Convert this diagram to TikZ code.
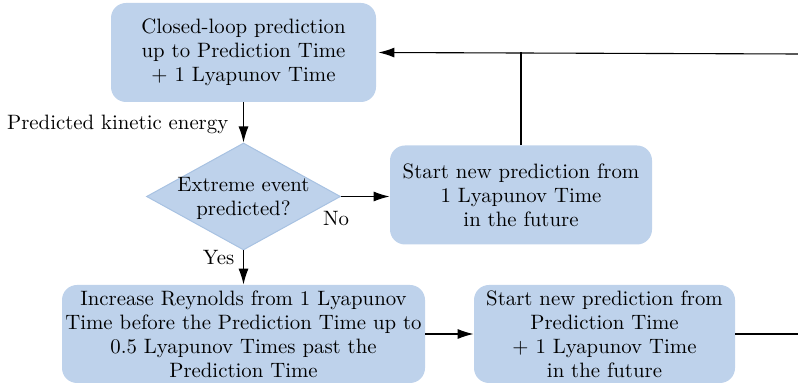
\documentclass[tikz,border=0pt]{standalone}
\usetikzlibrary{arrows.meta,shapes.geometric}
\definecolor{boxblue}{RGB}{190,210,235}
\definecolor{edgeblue}{RGB}{168,194,226}
\begin{document}
\begin{tikzpicture}[x=0.5pt,y=-0.5pt,
  every node/.style={font=\fontsize{10.4}{12}\selectfont},
  box/.style={rectangle, rounded corners=7.5pt, fill=boxblue, draw=none, align=center, inner sep=0pt},
  conn/.style={line width=0.55pt, -{Latex[length=8pt,width=5pt]}},
  plain/.style={line width=0.55pt}]
\useasboundingbox (0,0) rectangle (798,389);

\node[box, minimum width=132.5pt, minimum height=49.5pt] (top) at (243.5,52.5)
  {Closed-loop prediction\\up to Prediction Time\\+ 1 Lyapunov Time};
\node[diamond, fill=boxblue, draw=edgeblue, line width=0.5pt, minimum width=97pt,
  minimum height=53.5pt, inner sep=0pt] (dia) at (243.5,196.5) {};
\node[align=center, inner sep=0pt] (diatext) at (243.5,198) {Extreme event\\predicted?};
\node[box, minimum width=131pt, minimum height=49.5pt] (no) at (521,195)
  {Start new prediction from\\1 Lyapunov Time\\in the future};
\node[box, minimum width=181.5pt, minimum height=49pt] (bl) at (243.5,334)
  {Increase Reynolds from 1 Lyapunov\\Time before the Prediction Time up to\\0.5 Lyapunov Times past the\\Prediction Time};
\node[box, minimum width=130.5pt, minimum height=49pt] (br) at (604.5,334)
  {Start new prediction from\\Prediction Time\\+ 1 Lyapunov Time\\in the future};

\coordinate (inR) at (798,54);
\coordinate (outR) at (798,334);

\draw[conn] (top.south) -- node[left=4pt, pos=0.55]{Predicted kinetic energy} (dia.north);
\draw[conn] (dia.east) -- (dia.east -| no.west);
\node (nolab) at ([shift={(-5,22)}]dia.east) {No};
\draw[conn] (dia.south) -- node[pos=0.2,left=1pt]{Yes} (dia.south |- bl.north);
\draw[conn] (bl.east) -- (br.west);
\draw[plain] (br.east) -- (outR);
\draw[conn] (inR) -- ([xshift=1pt]top.east);
\draw[plain] (no.north) -- (no.north |- top.east);
\end{tikzpicture}
\end{document}
